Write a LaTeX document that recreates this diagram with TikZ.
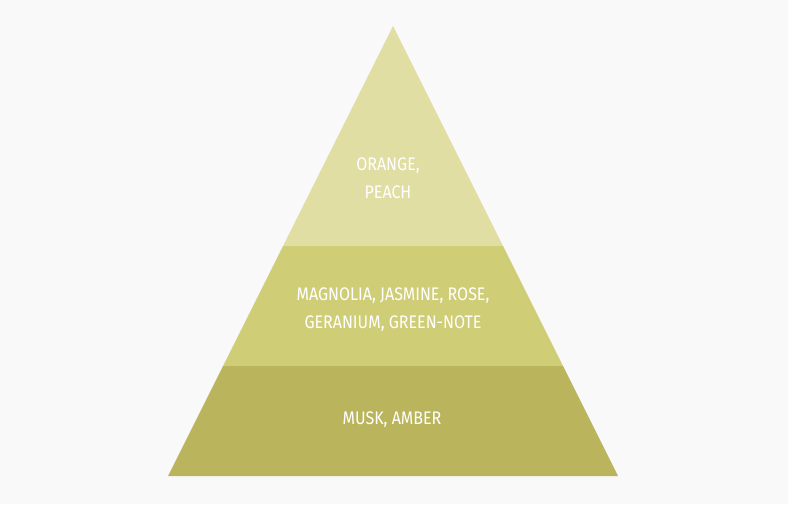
\documentclass[tikz,border=0pt]{standalone}
\usepackage{fontspec}
\setmainfont[FakeStretch=0.88]{Fira Sans}
\definecolor{bgc}{HTML}{F9F9F9}
\definecolor{topc}{HTML}{E0DEA3}
\definecolor{midc}{HTML}{D0CD77}
\definecolor{botc}{HTML}{BAB55D}
\begin{document}
\begin{tikzpicture}[x=1pt,y=-1pt,
  lab/.style={text=white,font=\fontsize{18.2}{28}\selectfont,align=center,inner sep=0pt}]
\useasboundingbox (0,0) rectangle (788,504);
\fill[bgc] (0,0) rectangle (788,504);
\fill[topc] (393,26) -- (503,246) -- (283,246) -- cycle;
\fill[midc] (283,246) -- (503,246) -- (563,366) -- (223,366) -- cycle;
\fill[botc] (223,366) -- (563,366) -- (618,476) -- (168,476) -- cycle;
\node[lab] (t) at (388,178) {ORANGE,\\PEACH};
\node[lab] (m) at (393,310) {MAGNOLIA, JASMINE, ROSE,\\GERANIUM, GREEN-NOTE};
\node[lab] (b) at (392,420) {MUSK, AMBER};
\end{tikzpicture}
\end{document}
